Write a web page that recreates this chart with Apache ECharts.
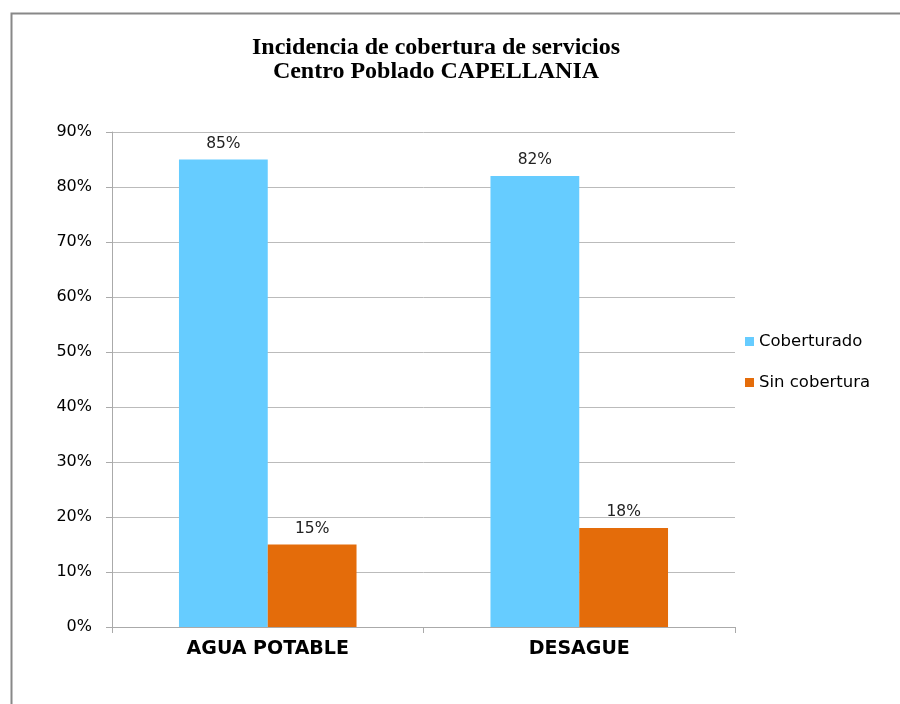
<!DOCTYPE html>
<html><head><meta charset="utf-8">
<script src="https://cdn.jsdelivr.net/npm/echarts@6/dist/echarts.min.js"></script>
<style>html,body{margin:0;padding:0;background:#fff}#c{width:900px;height:704px}</style>
</head><body><div id="c"></div>
<script>
const categories = ['AGUA POTABLE', 'DESAGUE'];
const coberturado = [85, 82];
const sinCobertura = [15, 18];
const seriesNames = ['Coberturado', 'Sin cobertura'];

const chart = echarts.init(document.getElementById('c'));
const lbl = {show: true, position: 'top', formatter: '{c}%', fontFamily: 'DejaVu Sans', fontSize: 15.5, color: '#222', distance: 8};
chart.setOption({
  animation: false,
  graphic: [{type: 'rect', shape: {x: 11.5, y: 13.5, width: 920, height: 720}, style: {fill: 'none', stroke: '#888', lineWidth: 2}, z: -1}],
  title: {
    text: 'Incidencia de cobertura de servicios\nCentro Poblado CAPELLANIA',
    left: 431, top: 31, textAlign: 'center',
    textStyle: {fontFamily: 'Liberation Serif', fontWeight: 'bold', fontSize: 24, lineHeight: 24, color: '#000'}
  },
  legend: {
    orient: 'vertical', left: 740, top: 328, itemWidth: 9, itemHeight: 9, itemGap: 24, icon: 'rect',
    textStyle: {fontFamily: 'DejaVu Sans', fontSize: 16.5, color: '#000'},
    data: seriesNames
  },
  grid: {left: 112, right: 165, top: 132, bottom: 77},
  xAxis: {
    type: 'category', data: categories,
    axisLine: {lineStyle: {color: '#aaa'}},
    axisTick: {show: true, alignWithLabel: false, length: 6, lineStyle: {color: '#aaa'}},
    axisLabel: {fontFamily: 'DejaVu Sans', fontWeight: 'bold', fontSize: 19, color: '#000', margin: 13}
  },
  yAxis: {
    type: 'value', min: 0, max: 90, interval: 10,
    axisLine: {show: true, lineStyle: {color: '#aaa'}},
    axisTick: {show: true, length: 6, lineStyle: {color: '#aaa'}},
    splitLine: {lineStyle: {color: '#bbb'}},
    axisLabel: {formatter: '{value}%', fontFamily: 'DejaVu Sans', fontSize: 16, color: '#000', margin: 20}
  },
  series: [
    {name: seriesNames[0], type: 'bar', data: coberturado, barGap: '0%', barCategoryGap: '43%', itemStyle: {color: '#66CCFF'}, label: lbl},
    {name: seriesNames[1], type: 'bar', data: sinCobertura, itemStyle: {color: '#E46C0A'}, label: lbl}
  ]
});
</script></body></html>
